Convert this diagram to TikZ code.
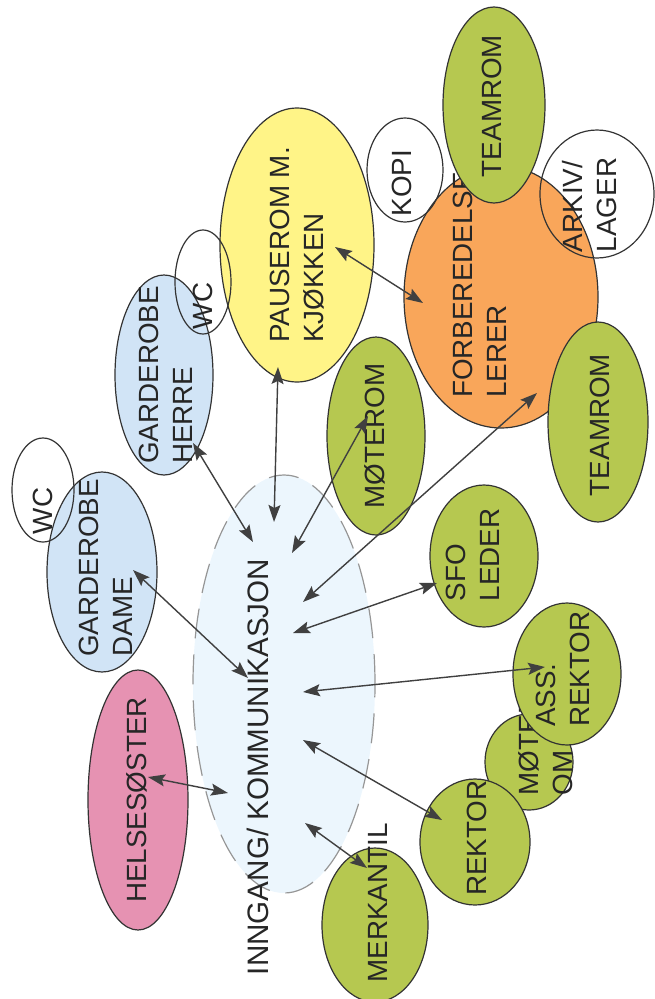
\documentclass[tikz,border=0pt]{standalone}
\usepackage{fontspec}
\setmainfont{Liberation Sans}
\usetikzlibrary{shapes.geometric,arrows.meta}
\tikzset{>={Stealth[length=17pt,width=12pt,inset=3pt]}}
\definecolor{roomGreen}{RGB}{182,200,80}
\definecolor{roomOrange}{RGB}{249,166,90}
\definecolor{roomYellow}{RGB}{255,244,135}
\definecolor{roomBlue}{RGB}{209,228,246}
\definecolor{roomPink}{RGB}{230,146,178}
\definecolor{hubFill}{RGB}{236,246,253}
\definecolor{hubLine}{RGB}{150,150,150}
\colorlet{penColor}{black!80}
\colorlet{textColor}{black!85}
\colorlet{arrowColor}{black!75}
\newcommand{\roomfont}{\fontsize{27.8}{34}\selectfont}
\newcommand{\hubfont}{\fontsize{29.6}{34}\selectfont}

\begin{document}
\begin{tikzpicture}[x=1pt,y=-1pt,
    room/.style={ellipse,draw=penColor,line width=1.2pt,inner sep=0pt},
    roomtext/.style={rotate=90,align=left,inner sep=0pt,font=\roomfont,text=textColor},
    link/.style={<->,line width=1.4pt,draw=arrowColor}]
  \useasboundingbox (0,0) rectangle (654,999);

  % inngang
  \node[ellipse,fill=hubFill,draw=hubLine,line width=1.2pt,dash pattern=on 30pt off 16pt,
        minimum width=182pt,minimum height=418pt] (hub) at (284,684) {};
  \node[roomtext,font=\hubfont] (hub-t) at (258,767) {INNGANG/ KOMMUNIKASJON};

  % left side
  \node[room,fill=roomPink,minimum width=100pt,minimum height=260pt] (helse) at (138,800) {};
  \node[roomtext] (helse-t) at (137,800) {HELSESØSTER};
  \node[room,fill=roomBlue,minimum width=110pt,minimum height=200pt] (dame) at (102,572) {};
  \node[roomtext] (dame-t) at (106,568) {GARDEROBE\\DAME};
  \node[room,minimum width=62pt,minimum height=104pt] (wc1) at (43,490) {};
  \node[roomtext] (wc1-t) at (43,511) {WC};
  \node[room,fill=roomBlue,minimum width=98pt,minimum height=200pt] (herre) at (164,375) {};
  \node[roomtext] (herre-t) at (166,375) {GARDEROBE\\HERRE};
  \node[room,fill=roomYellow,minimum width=154pt,minimum height=274pt] (pause) at (297,245) {};
  \node[roomtext] (pause-t) at (297,245) {PAUSEROM M.\\KJØKKEN};
  \node[room,minimum width=56pt,minimum height=104pt] (wc2) at (203,282) {};
  \node[roomtext] (wc2-t) at (203,306) {WC};

  % forberedelse
  \node[room,fill=roomGreen,minimum width=98pt,minimum height=198pt] (moterom) at (376,436) {};
  \node[roomtext] (moterom-t) at (375,436) {MØTEROM};
  \node[room,fill=roomOrange,minimum width=194pt,minimum height=262pt] (forb) at (501,297) {};
  \node[roomtext] (forb-t) at (480,285) {FORBEREDELSE\\LERER};
  \node[room,fill=roomGreen,minimum width=102pt,minimum height=196pt] (team1) at (494,105) {};
  \node[roomtext] (team1-t) at (492,106) {TEAMROM};
  \node[room,minimum width=76pt,minimum height=104pt] (kopi) at (405,170) {};
  \node[roomtext] (kopi-t) at (402,183) {KOPI};
  \node[room,minimum width=114pt,minimum height=128pt] (arkiv) at (597,194) {};
  \node[roomtext] (arkiv-t) at (590,205) {ARKIV/\\LAGER};
  \node[room,fill=roomGreen,minimum width=100pt,minimum height=200pt] (team2) at (598,422) {};
  \node[roomtext] (team2-t) at (600,425) {TEAMROM};

  % ledelse
  \node[room,fill=roomGreen,minimum width=108pt,minimum height=142pt] (sfo) at (484,556) {};
  \node[roomtext] (sfo-t) at (473,555) {SFO\\LEDER};
  \node[room,fill=roomGreen,minimum width=88pt,minimum height=96pt] (moterom2) at (529,762) {};
  \node[roomtext] (moterom2-t) at (546,745) {MØTER\\OM};
  \node[room,fill=roomGreen,minimum width=108pt,minimum height=142pt] (ass) at (567,674) {};
  \node[roomtext] (ass-t) at (563,669) {ASS.\\REKTOR};
  \node[room,fill=roomGreen,minimum width=110pt,minimum height=126pt] (rektor) at (475,842) {};
  \node[roomtext] (rektor-t) at (477,838) {REKTOR};
  \node[room,fill=roomGreen,minimum width=106pt,minimum height=154pt] (merk) at (375,925) {};
  \node[roomtext] (merk-t) at (378,903) {MERKANTIL};

  % arrow ends
  \coordinate (helse-e) at (148,777);   \coordinate (hub-helse) at (228,793);
  \coordinate (dame-e) at (133,570);    \coordinate (hub-dame) at (248,678);
  \coordinate (herre-e) at (193,443);   \coordinate (hub-herre) at (253,542);
  \coordinate (pause-e) at (278,367);   \coordinate (hub-pause) at (274,522);
  \coordinate (moterom-e) at (368,416); \coordinate (hub-moterom) at (292,553);
  \coordinate (pause-f) at (335,247);   \coordinate (forb-p) at (423,303);
  \coordinate (forb-e) at (537,393);    \coordinate (hub-forb) at (303,602);
  \coordinate (sfo-e) at (437,583);     \coordinate (hub-sfo) at (293,633);
  \coordinate (ass-e) at (545,667);     \coordinate (hub-ass) at (303,692);
  \coordinate (rektor-e) at (442,820);  \coordinate (hub-rektor) at (303,740);
  \coordinate (merk-e) at (367,868);    \coordinate (hub-merk) at (305,823);

  \draw[link] (helse-e) -- (hub-helse);
  \draw[link] (dame-e) -- (hub-dame);
  \draw[link] (herre-e) -- (hub-herre);
  \draw[link] (pause-e) -- (hub-pause);
  \draw[link] (moterom-e) -- (hub-moterom);
  \draw[link] (pause-f) -- (forb-p);
  \draw[link] (forb-e) -- (hub-forb);
  \draw[link] (sfo-e) -- (hub-sfo);
  \draw[link] (ass-e) -- (hub-ass);
  \draw[link] (rektor-e) -- (hub-rektor);
  \draw[link] (merk-e) -- (hub-merk);
\end{tikzpicture}
\end{document}
